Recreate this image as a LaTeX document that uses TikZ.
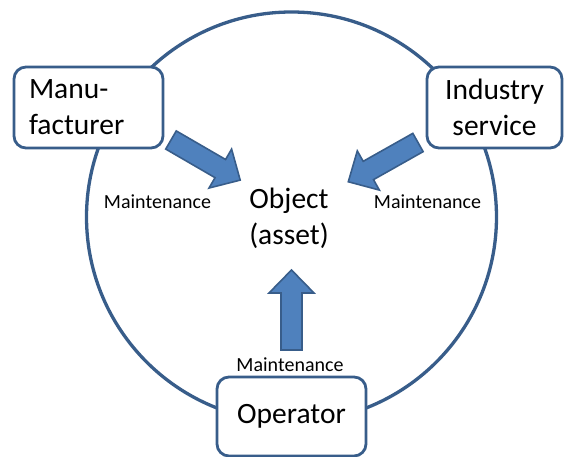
\documentclass[tikz,border=0pt]{standalone}
\usepackage{fontspec}
\setmainfont{Carlito}
\definecolor{ringblue}{HTML}{385D8A}
\definecolor{arrowfill}{HTML}{4F81BD}
\tikzset{
    party/.style = {draw=ringblue, line width=2.8pt, fill=white, rounded corners=12pt,
        minimum width=149pt, minimum height=81pt, font=\fontsize{29.5}{36}\selectfont},
    tag/.style = {anchor=base, font=\fontsize{20}{24}\selectfont},
    flow/.style = {fill=arrowfill, draw=ringblue, line width=1.6pt, line join=miter},
}
% block arrow: tail x, tail y, angle
\newcommand{\blockarrow}[3]{
    \draw [flow, shift={(#1,#2)}, rotate=#3]
    (0,-10.5) -- (57,-10.5) -- (57,-22.5) -- (80,0) -- (57,22.5) -- (57,10.5) -- (0,10.5) -- cycle;
}
\begin{document}
\begin{tikzpicture}[x=1pt, y=1pt]
    \useasboundingbox (0,0) rectangle (566,457);
    \draw [ringblue, line width=3.3pt] (291.5,240) circle (205pt);
    \node [party, inner xsep=15pt, text width=119pt, align=left] (manuf) at (88.5,349.5) {Manu-\\facturer};
    \node [party, minimum width=135pt, align=center] (indserv) at (494.5,349.5) {Industry\\service};
    \node [party, minimum height=79pt] (operator) at (291.5,40.5) {Operator};
    \node [font=\fontsize{29.5}{36}\selectfont, align=center] (object) at (289,239) {Object\\(asset)};
    \blockarrow{171}{317}{-30.1}
    \blockarrow{418}{314.5}{209.4}
    \blockarrow{291.5}{107}{90}
    \node [tag] (mleft) at (157.5,248) {Maintenance};
    \node [tag] (mright) at (427.5,248) {Maintenance};
    \node [tag] (mbottom) at (290,85) {Maintenance};
\end{tikzpicture}
\end{document}
